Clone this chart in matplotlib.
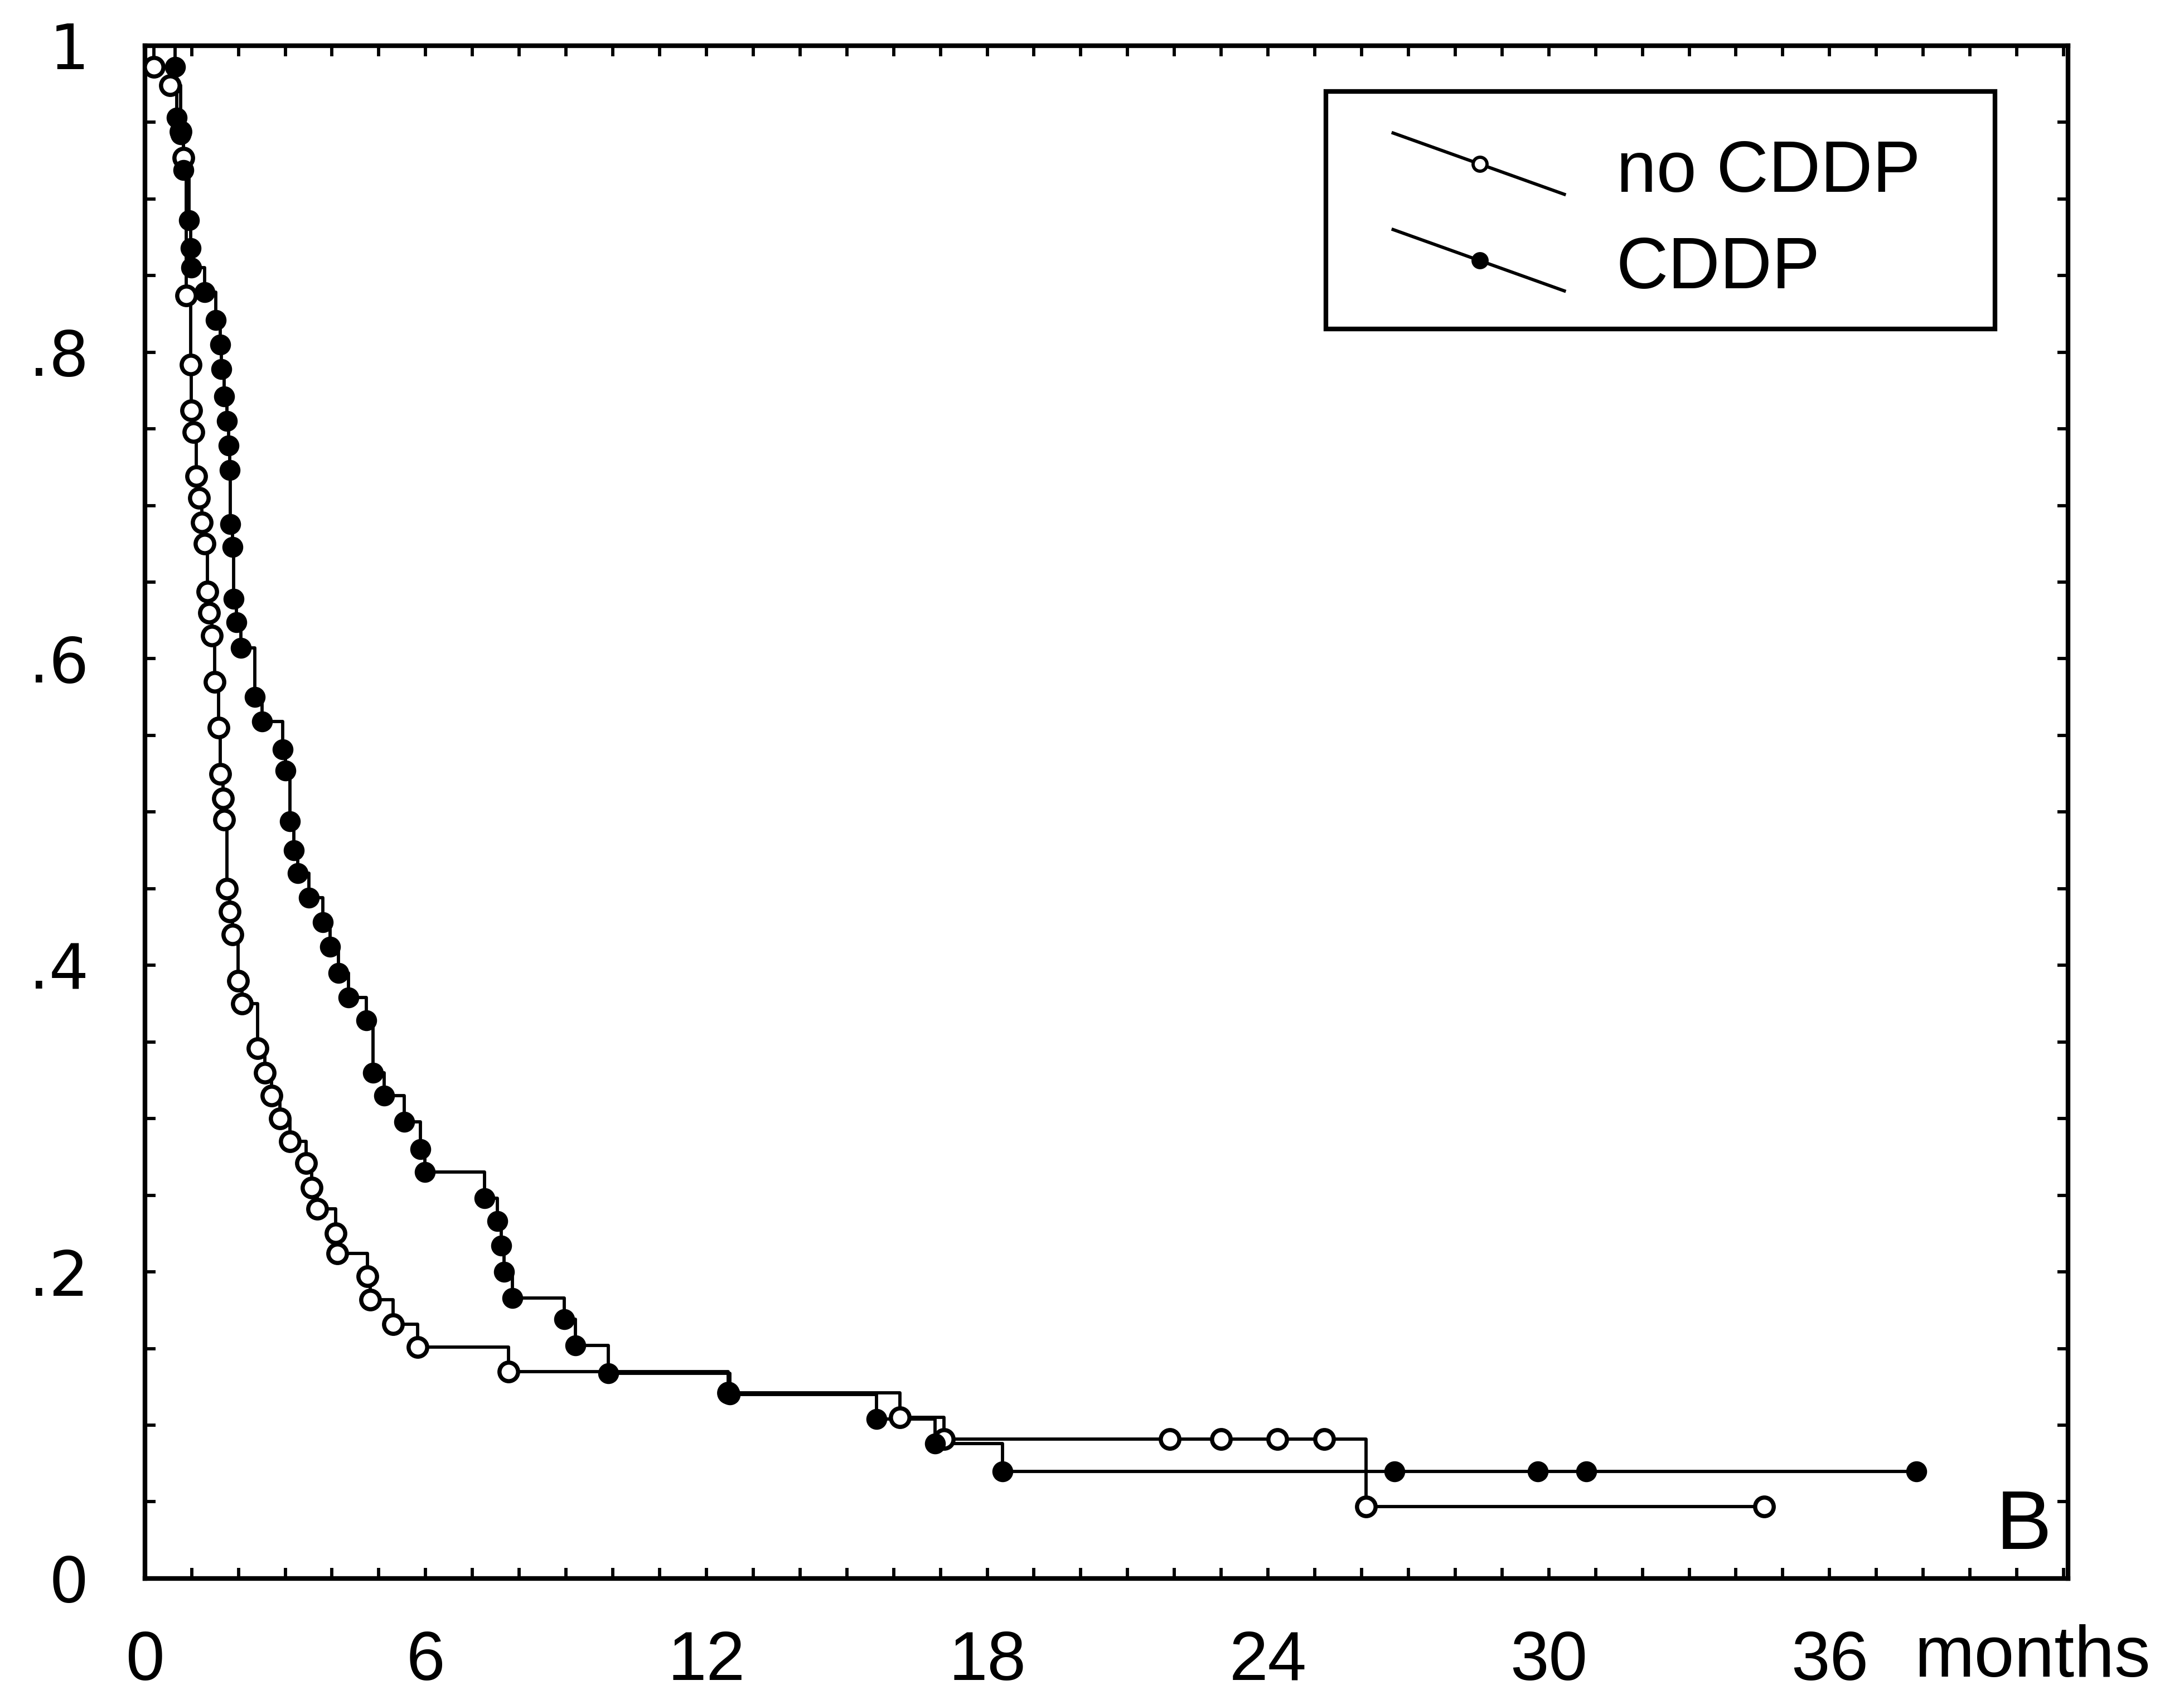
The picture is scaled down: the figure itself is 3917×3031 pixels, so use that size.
import numpy as np
import matplotlib
matplotlib.use('Agg')
import matplotlib.pyplot as plt
from matplotlib.ticker import MultipleLocator
from matplotlib.patches import Rectangle

# survival (Kaplan-Meier): time of each mark (months) and survival after it
nocddp_t = [0.2, 0.54, 0.77, 0.83, 0.89, 0.98, 0.99, 1.04, 1.10, 1.16, 1.22, 1.28, 1.34, 1.37,
            1.43, 1.49, 1.58, 1.61, 1.67, 1.70, 1.76, 1.82, 1.88, 1.99, 2.08, 2.41, 2.56, 2.71,
            2.89, 3.10, 3.45, 3.57, 3.69, 4.08, 4.11, 4.76, 4.82, 5.30, 5.83, 7.77, 12.47,
            16.13, 17.08, 21.9, 23.0, 24.2, 25.2, 26.1, 34.6]
nocddp_s = [0.986, 0.974, 0.944, 0.927, 0.837, 0.792, 0.762, 0.748, 0.719, 0.705, 0.689, 0.675,
            0.644, 0.630, 0.615, 0.585, 0.555, 0.525, 0.509, 0.495, 0.450, 0.435, 0.420, 0.390,
            0.375, 0.346, 0.330, 0.315, 0.300, 0.285, 0.271, 0.255, 0.241, 0.225, 0.212, 0.197,
            0.182, 0.166, 0.151, 0.135, 0.121, 0.105, 0.091, 0.091, 0.091, 0.091, 0.091, 0.047,
            0.047]

cddp_t = [0.65, 0.68, 0.77, 0.83, 0.95, 0.98, 0.99, 1.28, 1.52, 1.61, 1.64, 1.70, 1.76, 1.79,
          1.82, 1.83, 1.88, 1.90, 1.96, 2.05, 2.35, 2.50, 2.95, 3.00, 3.10, 3.18, 3.27, 3.51,
          3.81, 3.96, 4.14, 4.35, 4.73, 4.88, 5.12, 5.54, 5.89, 5.98, 7.26, 7.53, 7.62, 7.68,
          7.86, 8.96, 9.20, 9.91, 12.50, 15.63, 16.88, 18.33, 26.7, 29.76, 30.8, 37.86]
cddp_s = [0.986, 0.953, 0.942, 0.919, 0.886, 0.868, 0.855, 0.839, 0.821, 0.805, 0.789, 0.771,
          0.755, 0.739, 0.723, 0.688, 0.673, 0.639, 0.624, 0.607, 0.575, 0.559, 0.541, 0.527,
          0.494, 0.475, 0.460, 0.444, 0.428, 0.412, 0.395, 0.379, 0.364, 0.330, 0.315, 0.298,
          0.280, 0.265, 0.248, 0.233, 0.217, 0.200, 0.183, 0.169, 0.152, 0.134, 0.120, 0.104,
          0.088, 0.070, 0.070, 0.070, 0.070, 0.070]

x_ticks = [0, 6, 12, 18, 24, 30, 36]
y_ticks = [0, 0.2, 0.4, 0.6, 0.8, 1.0]
y_labels = ['0', '.2', '.4', '.6', '.8', '1']
series_names = ['no CDDP', 'CDDP']

fig = plt.figure(figsize=(3917 / 300, 3031 / 300), dpi=300)
ax = fig.add_axes([0.0663, 0.066, 0.8807, 0.907])

lw = 1.4
ms = 8
# no CDDP: open circles
ax.step(np.r_[0, nocddp_t], np.r_[1, nocddp_s], where='post', color='black', lw=lw, zorder=2)
ax.plot(nocddp_t, nocddp_s, 'o', ms=ms, mfc='white', mec='black', mew=1.8, zorder=3)
# CDDP: filled circles
ax.step(np.r_[0, cddp_t], np.r_[1, cddp_s], where='post', color='black', lw=lw, zorder=2)
ax.plot(cddp_t, cddp_s, 'o', ms=ms, mfc='black', mec='black', zorder=4)

ax.set_xlim(0, 41.1)
ax.set_ylim(0, 1)
for sp in ax.spines.values():
    sp.set_linewidth(2.0)

ax.set_xticks(x_ticks)
ax.set_xticklabels([str(v) for v in x_ticks], fontsize=30, family='Liberation Sans')
ax.xaxis.set_minor_locator(MultipleLocator(1))
ax.set_yticks(y_ticks)
ax.set_yticklabels(y_labels, fontsize=27, family='DejaVu Sans')
ax.yaxis.set_minor_locator(MultipleLocator(0.05))
ax.tick_params(which='both', direction='in', top=True, right=True, length=4.5, width=1.4)
ax.tick_params(axis='x', which='major', pad=22)
ax.tick_params(axis='y', which='major', pad=24)

# unit label next to the last tick label
ax.text(0.92, -0.052, 'months', transform=ax.transAxes, fontsize=31,
        family='Liberation Sans', ha='left', va='center')

# panel letter
ax.text(0.977, 0.008, 'B', transform=ax.transAxes, fontsize=36,
        family='Liberation Sans', ha='center', va='bottom')

# legend box drawn by hand with slanted sample lines
ax.add_patch(Rectangle((0.614, 0.815), 0.348, 0.155, transform=ax.transAxes,
                       fill=False, lw=2.0, ec='black', zorder=5))
legend_rows = [(0.923, 'white'), (0.860, 'black')]
for (yc, face), name in zip(legend_rows, series_names):
    ax.plot([0.649, 0.738], [yc + 0.02, yc - 0.02], transform=ax.transAxes,
            color='black', lw=1.4, zorder=6)
    ax.plot([0.694], [yc], 'o', transform=ax.transAxes, ms=6, mfc=face, mec='black',
            mew=1.4, zorder=7)
    ax.text(0.765, yc - 0.006, name, transform=ax.transAxes, fontsize=31,
            family='Liberation Sans', ha='left', va='center', zorder=7)

fig.savefig('out.png', dpi=300)
